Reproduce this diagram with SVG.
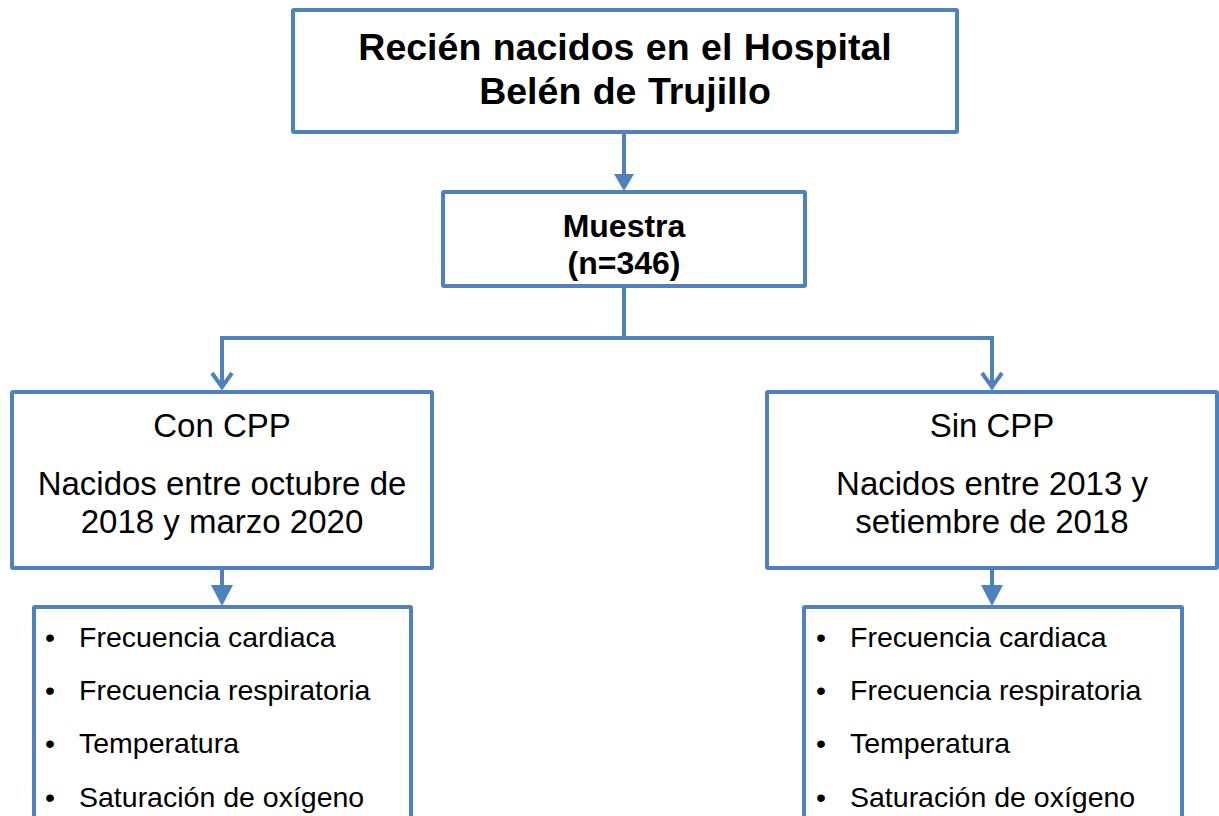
<svg xmlns="http://www.w3.org/2000/svg" width="1219" height="816" viewBox="0 0 1219 816">
<defs>
<style>
.box{fill:#fff;stroke:#4F81BD;stroke-width:4}
.ln{fill:none;stroke:#4F81BD;stroke-width:4}
.tri{fill:#4F81BD}
text{font-family:"Liberation Sans",Arial,sans-serif;fill:#000}
.t{font-size:37.5px;text-anchor:middle;font-weight:bold;word-spacing:1px}
.m{font-size:32px;text-anchor:middle;font-weight:bold}
.c{font-size:33px;text-anchor:middle}
.li{font-size:28.5px}
</style>
</defs>
<rect width="1219" height="816" fill="#fff"/>
<g id="connectors">
<line class="ln" x1="624" y1="132" x2="624" y2="176"/>
<polygon class="tri" points="614,174 634,174 624,191"/>
<polyline class="ln" points="624,286 624,338 222,338 222,387"/>
<polyline class="ln" points="624,338 992,338 992,387"/>
<polyline class="ln" points="212,373 222,387 232,373"/>
<polyline class="ln" points="982,373 992,387 1002,373"/>
<line class="ln" x1="222" y1="568" x2="222" y2="588"/>
<polygon class="tri" points="211,585 233,585 222,606"/>
<line class="ln" x1="992" y1="568" x2="992" y2="588"/>
<polygon class="tri" points="981,585 1003,585 992,606"/>
</g>
<g id="n-top">
<rect class="box" x="293" y="10" width="664" height="122" rx="1"/>
<text class="t" x="625" y="60">Recién nacidos en el Hospital</text>
<text class="t" x="625" y="104">Belén de Trujillo</text>
</g>
<g id="n-muestra">
<rect class="box" x="443" y="192" width="362" height="94" rx="1"/>
<text class="m" x="624" y="237">Muestra</text>
<text class="m" x="624" y="274">(n=346)</text>
</g>
<g id="n-con">
<rect class="box" x="12" y="392" width="420" height="176" rx="1"/>
<text class="c" x="222" y="437">Con CPP</text>
<text class="c" x="222" y="495">Nacidos entre octubre de</text>
<text class="c" x="222" y="533">2018 y marzo 2020</text>
</g>
<g id="n-sin">
<rect class="box" x="767" y="392" width="450" height="176" rx="1"/>
<text class="c" x="992" y="437">Sin CPP</text>
<text class="c" x="992" y="495">Nacidos entre 2013 y</text>
<text class="c" x="992" y="533">setiembre de 2018</text>
</g>
<g id="n-vars-con">
<rect class="box" x="34" y="607" width="377" height="230" rx="1"/>
<text class="li" x="45" y="647">•</text><text class="li" x="79" y="647">Frecuencia cardiaca</text>
<text class="li" x="45" y="700">•</text><text class="li" x="79" y="700">Frecuencia respiratoria</text>
<text class="li" x="45" y="753">•</text><text class="li" x="79" y="753">Temperatura</text>
<text class="li" x="45" y="807">•</text><text class="li" x="79" y="807">Saturación de oxígeno</text>
</g>
<g id="n-vars-sin">
<rect class="box" x="804" y="607" width="378" height="230" rx="1"/>
<text class="li" x="816" y="647">•</text><text class="li" x="850" y="647">Frecuencia cardiaca</text>
<text class="li" x="816" y="700">•</text><text class="li" x="850" y="700">Frecuencia respiratoria</text>
<text class="li" x="816" y="753">•</text><text class="li" x="850" y="753">Temperatura</text>
<text class="li" x="816" y="807">•</text><text class="li" x="850" y="807">Saturación de oxígeno</text>
</g>
</svg>
